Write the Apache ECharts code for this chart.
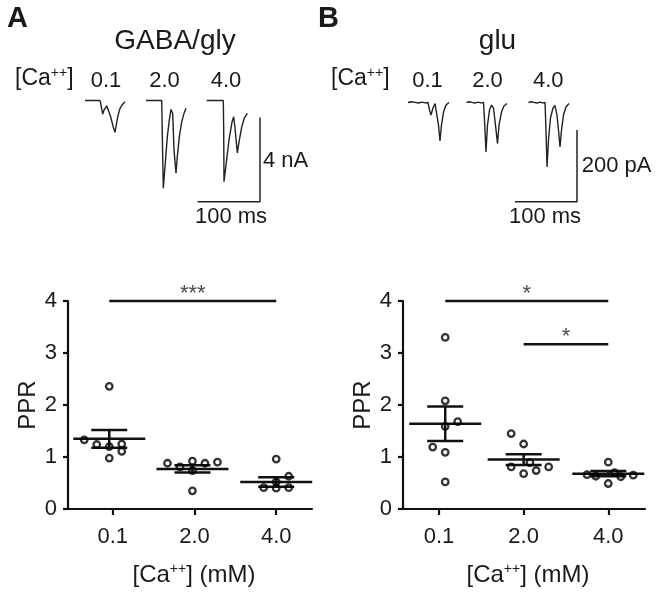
<!DOCTYPE html>
<html>
<head>
<meta charset="utf-8">
<script src="https://cdn.jsdelivr.net/npm/echarts@6/dist/echarts.min.js"></script>
<style>
html,body{margin:0;padding:0;background:#fff;}
#chart{width:659px;height:593px;}
</style>
</head>
<body>
<div id="chart"></div>
<script>
// ---------------- data ----------------
const caTicks = ['0.1', '2.0', '4.0'];

// PPR values per [Ca++] group and their column slot in the dot cloud
const gabaPPR = [
  [2.36, 1.33, 1.24, 1.20, 1.25, 1.11, 0.98],
  [0.88, 0.81, 0.92, 0.74, 0.88, 0.90, 0.35],
  [0.96, 0.63, 0.52, 0.41, 0.40, 0.41]
];
const gabaSlot = [
  [0, -2, -1, 0, 1, 1, 0],
  [-2, -1, 0, 0, 1, 2, 0],
  [0, 1, 0, -1, 0, 1]
];
const gabaMean = [1.35, 0.77, 0.52];
const gabaSEM = [0.17, 0.07, 0.09];

const gluPPR = [
  [3.30, 2.08, 1.68, 1.59, 1.19, 1.09, 0.52],
  [1.45, 1.25, 0.81, 0.68, 0.74, 0.81, 0.89],
  [0.90, 0.49, 0.66, 0.63, 0.62, 0.65, 0.70]
];
const gluSlot = [
  [0, 0, 1, 0, -1, 0, 0],
  [-1, 0, -1, 0, 1, 2, 0.5],
  [0, 0, -1.7, -1, 1, 2, 0.5]
];
const gluMean = [1.64, 0.95, 0.68];
const gluSEM = [0.33, 0.105, 0.05];

// significance comparisons: [fromGroup, toGroup, PPR level, stars]
const gabaSig = [[1, 3, 4, '***']];
const gluSig = [[1, 3, 4, '*'], [2, 3, 3.17, '*']];

// example traces: [time ms, current nA]
const gabaTrace01 = [[8,0],[32,0],[33.1,-0.13],[36.3,-0.64],[38.4,-0.45],[42.7,-0.25],[45.3,-0.25],[49.1,-0.77],[53.3,-1.27],[56,-1.51],[57.6,-1.24],[60.3,-0.77],[64,-0.37],[68.3,-0.17],[72,-0.06]];
const gabaTrace20 = [[105.6,0],[130.7,0],[131.2,-0.77],[132.3,-2.66],[133.3,-4.16],[136,-3.14],[139.7,-1.72],[142.9,-0.92],[145.6,-0.42],[148.3,-0.61],[150.4,-2.35],[153.6,-3.45],[155.7,-2.66],[158.9,-1.72],[162.7,-1.01],[166.4,-0.61],[169.6,-0.37]];
const gabaTrace40 = [[202.7,0],[229.3,0],[229.9,-1.40],[230.4,-3.85],[233.6,-3.06],[238.4,-1.87],[243.2,-1.02],[245.9,-0.77],[248,-1.30],[251.7,-2.48],[254.4,-1.97],[258.7,-1.26],[262.9,-0.83],[267.7,-0.61]];
// [time ms, current pA]
const gluTrace01 = [[12.9,0],[18,2.2],[24.2,0.5],[30,-1.4],[35.5,1.2],[40,-0.8],[45.2,0],[47.6,-20.9],[50,-34.9],[53.2,-15.3],[56.5,-2.8],[59.7,-7],[62.1,-62.8],[64.5,-107.4],[66.9,-62.8],[70.2,-26.5],[74.2,-7],[79,0]];
const gluTrace20 = [[107.3,0],[112,2.2],[116.1,0.5],[121,-1.4],[125.8,1.2],[130,-0.8],[134.7,0],[136.3,-48.8],[138.7,-138.1],[141.1,-62.8],[144.4,-20.9],[147.6,-7],[150.8,-15.3],[154.0,-62.8],[157.3,-114.4],[159.7,-62.8],[163.7,-26.5],[167.7,-9.8],[172.6,-2.8]];
const gluTrace40 = [[207.3,0],[212,2.2],[216.1,0.5],[221,-1.4],[225.8,1.2],[230,-0.8],[233.9,0],[235.2,-62.8],[237.1,-179.9],[239.5,-104.6],[242.7,-43.2],[246.8,-15.3],[250,-8.4],[253.2,-34.9],[255.6,-76.7],[258.1,-124.1],[260.5,-76.7],[263.7,-34.9],[267.7,-12.6],[272.6,-2.8]];

// scale bars: [ms, amplitude]
const gabaScale = [100, 4];   // 100 ms, 4 nA
const gluScale = [100, 200];  // 100 ms, 200 pA

// ---------------- layout / style ----------------
const FONT = "'Liberation Sans', Arial, Helvetica, sans-serif";
const INK = '#1a1a1a';
const gridA = {left: 68, top: 301, width: 244, height: 208};
const gridB = {left: 403, top: 301, width: 242, height: 208};
const xRangeA = [0.452, 3.438];
const xRangeB = [0.574, 3.434];
const groupOffA = [-0.043, -0.025, 0];
const groupOffB = [0.073, 0, 0];
const SLOT_PX = 12.5;

function pxPerUnit(g, r) { return g.width / (r[1] - r[0]); }

function scatterData(ppr, slots, offs, g, r) {
  const k = SLOT_PX / pxPerUnit(g, r);
  const out = [];
  ppr.forEach((vals, gi) => vals.forEach((v, j) => out.push([gi + 1 + offs[gi] + slots[gi][j] * k, v])));
  return out;
}

function meanSem(idx, means, sems, offs) {
  return {
    type: 'custom', xAxisIndex: idx, yAxisIndex: idx, z: 3,
    data: means.map((m, i) => [i + 1 + offs[i], m, sems[i]]),
    encode: {x: 0, y: 1},
    renderItem: function (p, api) {
      const cx = api.value(0), m = api.value(1), s = api.value(2);
      const c = api.coord([cx, m]), t = api.coord([cx, m + s]), b = api.coord([cx, m - s]);
      const st = {stroke: '#111', lineWidth: 2.5, fill: null};
      return {type: 'group', children: [
        {type: 'line', shape: {x1: c[0] - 36, y1: c[1], x2: c[0] + 36, y2: c[1]}, style: st},
        {type: 'line', shape: {x1: c[0], y1: t[1], x2: c[0], y2: b[1]}, style: st},
        {type: 'line', shape: {x1: c[0] - 18, y1: t[1], x2: c[0] + 18, y2: t[1]}, style: st},
        {type: 'line', shape: {x1: c[0] - 18, y1: b[1], x2: c[0] + 18, y2: b[1]}, style: st}
      ]};
    }
  };
}

function sigSeries(idx, sig, offs) {
  const arr = [];
  sig.forEach(s => {
    const x1 = s[0] + offs[s[0] - 1], x2 = s[1] + offs[s[1] - 1];
    arr.push({type: 'line', xAxisIndex: idx, yAxisIndex: idx, data: [[x1, s[2]], [x2, s[2]]],
      showSymbol: false, symbol: 'none', lineStyle: {color: '#111', width: 2.5}, silent: true, clip: false});
    arr.push({type: 'scatter', xAxisIndex: idx, yAxisIndex: idx, data: [[(x1 + x2) / 2, s[2]]],
      symbolSize: 0, silent: true, clip: false,
      label: {show: true, formatter: s[3], position: 'top', distance: 0, offset: [0, 4],
        fontSize: 22, fontFamily: FONT, color: INK}});
  });
  return arr;
}

const richCa = {
  a: {fontSize: 24, fontFamily: FONT, color: INK},
  s: {fontSize: 14, fontFamily: FONT, color: INK, padding: [0, 0, 12, 0]}
};

function xAxisFor(idx, r) {
  return {
    type: 'value', gridIndex: idx, min: r[0], max: r[1],
    axisLine: {show: true, onZero: false, lineStyle: {color: '#111', width: 2.2}},
    axisTick: {show: true, customValues: [1, 2, 3], length: 6, lineStyle: {color: '#111', width: 2.2}},
    axisLabel: {customValues: [1, 2, 3], formatter: v => caTicks[Math.round(v) - 1],
      fontSize: 22, fontFamily: FONT, color: INK, margin: 17},
    splitLine: {show: false},
    name: '{a|[Ca}{s|++}{a|] (mM)}', nameLocation: 'middle', nameGap: 53,
    nameTextStyle: {rich: richCa, padding: [0, 0, 0, 8]}
  };
}
function yAxisFor(idx) {
  return {
    type: 'value', gridIndex: idx, min: 0, max: 4, interval: 1,
    axisLine: {show: true, lineStyle: {color: '#111', width: 2.2}},
    axisTick: {show: true, length: 5, lineStyle: {color: '#111', width: 2.2}},
    axisLabel: {fontSize: 22, fontFamily: FONT, color: INK, margin: 11},
    splitLine: {show: false},
    name: 'PPR', nameLocation: 'middle', nameGap: 28,
    nameTextStyle: {fontSize: 24, fontFamily: FONT, color: INK}
  };
}

function traceSeries(idx, d) {
  return {type: 'line', xAxisIndex: idx, yAxisIndex: idx, data: d, showSymbol: false, symbol: 'none',
    lineStyle: {color: '#222', width: 1.4}, silent: true, clip: false};
}
function scaleBarSeries(idx, corner, sc) {
  return {type: 'line', xAxisIndex: idx, yAxisIndex: idx,
    data: [[corner[0] - sc[0], corner[1]], corner, [corner[0], corner[1] + sc[1]]],
    showSymbol: false, symbol: 'none', lineStyle: {color: '#222', width: 1.5}, silent: true, clip: false};
}

function txt(x, y, text, size, align, extra) {
  return {type: 'text', x: x, y: y, silent: true,
    style: Object.assign({text: text, fontSize: size, fontFamily: FONT, fill: INK,
      align: align || 'left', verticalAlign: 'middle'}, extra || {})};
}
function caLabel(x, y) {
  return {type: 'text', x: x, y: y, silent: true,
    style: {text: '{a|[Ca}{s|++}{a|]}', rich: {
      a: {fontSize: 23, fontFamily: FONT, fill: INK, color: INK},
      s: {fontSize: 14, fontFamily: FONT, fill: INK, color: INK, padding: [0, 0, 11, 0]}},
      align: 'left', verticalAlign: 'middle'}};
}

const chart = echarts.init(document.getElementById('chart'), null, {renderer: 'canvas'});
chart.setOption({
  animation: false,
  backgroundColor: '#fff',
  textStyle: {fontFamily: FONT},
  grid: [
    Object.assign({}, gridA),
    Object.assign({}, gridB),
    {left: 80, top: 90, width: 190, height: 116},
    {left: 400, top: 88.2, width: 186, height: 121.9}
  ],
  xAxis: [
    xAxisFor(0, xRangeA),
    xAxisFor(1, xRangeB),
    {type: 'value', gridIndex: 2, min: 0, max: 304, show: false},
    {type: 'value', gridIndex: 3, min: 0, max: 300, show: false}
  ],
  yAxis: [
    yAxisFor(0),
    yAxisFor(1),
    {type: 'value', gridIndex: 2, min: -5, max: 0.5, show: false},
    {type: 'value', gridIndex: 3, min: -300, max: 40, show: false}
  ],
  series: [
    {type: 'scatter', xAxisIndex: 0, yAxisIndex: 0, z: 4,
      data: scatterData(gabaPPR, gabaSlot, groupOffA, gridA, xRangeA),
      symbol: 'circle', symbolSize: 6.5,
      itemStyle: {color: 'transparent', borderColor: '#000', borderWidth: 2.3}},
    {type: 'scatter', xAxisIndex: 1, yAxisIndex: 1, z: 4,
      data: scatterData(gluPPR, gluSlot, groupOffB, gridB, xRangeB),
      symbol: 'circle', symbolSize: 6.5,
      itemStyle: {color: 'transparent', borderColor: '#000', borderWidth: 2.3}},
    meanSem(0, gabaMean, gabaSEM, groupOffA),
    meanSem(1, gluMean, gluSEM, groupOffB),
    ...sigSeries(0, gabaSig, groupOffA),
    ...sigSeries(1, gluSig, groupOffB),
    traceSeries(2, gabaTrace01), traceSeries(2, gabaTrace20), traceSeries(2, gabaTrace40),
    traceSeries(3, gluTrace01), traceSeries(3, gluTrace20), traceSeries(3, gluTrace40),
    scaleBarSeries(2, [288, -4.8], gabaScale),
    scaleBarSeries(3, [285.5, -276.7], gluScale)
  ],
  graphic: [
    txt(7, 18.5, 'A', 29, 'left', {fontWeight: 'bold'}),
    txt(318, 18.5, 'B', 29, 'left', {fontWeight: 'bold'}),
    txt(175, 41, 'GABA/gly', 28, 'center'),
    txt(497.5, 41, 'glu', 28, 'center'),
    caLabel(15, 79),
    txt(106, 80.5, caTicks[0], 22, 'center'),
    txt(164.5, 80.5, caTicks[1], 22, 'center'),
    txt(226, 80.5, caTicks[2], 22, 'center'),
    caLabel(331, 79),
    txt(427.5, 81, caTicks[0], 22, 'center'),
    txt(487.5, 81, caTicks[1], 22, 'center'),
    txt(548.3, 81, caTicks[2], 22, 'center'),
    txt(263, 161, gabaScale[1] + ' nA', 22, 'left'),
    txt(231, 216.7, gabaScale[0] + ' ms', 22, 'center'),
    txt(581.7, 166.3, gluScale[1] + ' pA', 22, 'left'),
    txt(545, 216.7, gluScale[0] + ' ms', 22, 'center')
  ]
});
</script>
</body>
</html>
